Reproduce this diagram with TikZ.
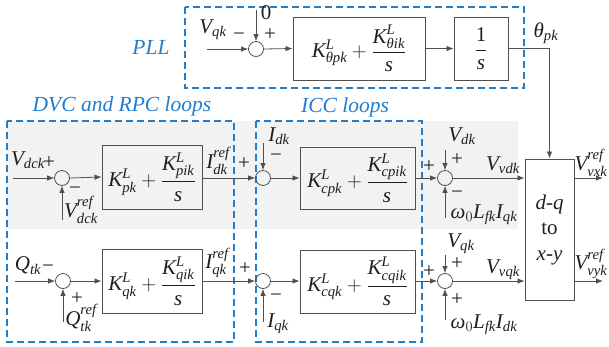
\documentclass[tikz,border=0pt]{standalone}
\usepackage{amsmath}
\usepackage{fontspec}
\setmainfont{Liberation Serif}
\usetikzlibrary{arrows.meta}
\definecolor{lc}{RGB}{80,80,80}
\definecolor{bc}{RGB}{35,125,205}
\definecolor{gb}{RGB}{242,242,242}
\newcommand{\iv}[1]{\textit{#1}}
\newcommand{\fsz}{\fontsize{21}{24}\selectfont}
\begin{document}
\begin{tikzpicture}[x=1pt,y=-1pt, line width=0.8pt,
  every node/.style={font=\fsz, text=black!88},
  lbl/.style={inner sep=0pt},
  sumc/.style={circle, draw=lc, line width=0.8pt, minimum size=15pt, inner sep=0pt},
  blk/.style={draw=lc, line width=0.9pt, inner sep=0pt},
  conn/.style={draw=lc, -{Latex[length=7pt,width=5.5pt]}},
  dbox/.style={draw=bc, line width=1.2pt, dash pattern=on 7pt off 4pt},
  blab/.style={text=bc, font=\fontsize{21.5}{24}\selectfont\itshape, inner sep=0pt}]
\useasboundingbox (0,0) rectangle (609,346);
% background band
\fill[gb] (7,121) rectangle (518,229);
% dashed group boxes
\draw[dbox] (185,7) rectangle (524,88);
\draw[dbox] (7,121) rectangle (234,342);
\draw[dbox] (256,121) rectangle (422,342);
\node[blab] (tpll) at (151,47) {PLL};
\node[blab] (tdvc) at (122,106) {DVC and RPC loops};
\node[blab] (ticc) at (345,107) {ICC loops};

% ---------- PLL row ----------
\coordinate (in0) at (207,49);
\coordinate (top0) at (256,10);
\node[sumc] (s0) at (256,49) {};
\node[blk, minimum width=132pt, minimum height=63pt] (b0) at (359,48.5)
  {$\iv{K}^{\iv{L}}_{\iv{θpk}}+\dfrac{\iv{K}^{\iv{L}}_{\iv{θik}}}{\iv{s}}$};
\node[blk, minimum width=54pt, minimum height=63pt] (b01) at (481,48.5)
  {$\dfrac{\textup{1}}{\iv{s}}$};
\node[blk, minimum width=49pt, minimum height=141pt, align=center,
  font=\fontsize{21}{25.5}\selectfont] (dq) at (549.5,229.5)
  {\iv{d-q}\\to\\\iv{x-y}};
\node[lbl] (lvqk) at (213,30) {$\iv{V}_{\iv{qk}}$};
\node[lbl] (lzero) at (266,13) {0};
\node[lbl] (lm0) at (239,37) {−};
\node[lbl] (lp0) at (270,35) {+};
\node[lbl] (lth) at (546,33) {$\iv{θ}_{\iv{pk}}$};
\draw[conn] (in0) -- (s0.west);
\draw[conn] (top0) -- (s0.north);
\draw[conn] (s0.east) -- (b0.west);
\draw[conn] (b0.east) -- (b01.west);
\draw[conn] (b01.east) -| (dq.north);

% ---------- row 1 (d axis) ----------
\coordinate (in1) at (13,178);
\coordinate (vref) at (62,220);
\coordinate (idk) at (263,143);
\coordinate (vdk) at (445,150);
\coordinate (wq) at (445,218);
\coordinate (o1) at (603,178);
\node[sumc] (c1) at (62,178) {};
\node[sumc] (c2) at (263,178) {};
\node[sumc] (c3) at (445,178) {};
\node[blk, minimum width=100pt, minimum height=64pt] (p1) at (152,177)
  {$\iv{K}^{\iv{L}}_{\iv{pk}}+\dfrac{\iv{K}^{\iv{L}}_{\iv{pik}}}{\iv{s}}$};
\node[blk, minimum width=115pt, minimum height=62pt] (cp) at (357.5,178)
  {$\iv{K}^{\iv{L}}_{\iv{cpk}}+\dfrac{\iv{K}^{\iv{L}}_{\iv{cpik}}}{\iv{s}}$};
\node[lbl] (lvdck) at (28,160) {$\iv{V}_{\iv{dck}}$};
\node[lbl] (lp1) at (49,163) {+};
\node[lbl] (lm1) at (75,191) {−};
\node[lbl] (lvref) at (81,210) {$\iv{V}^{\iv{ref}}_{\iv{dck}}$};
\node[lbl] (lidref) at (218,161) {$\iv{I}^{\iv{ref}}_{\iv{dk}}$};
\node[lbl] (lp2) at (244,164) {+};
\node[lbl] (lidk) at (279,136) {$\iv{I}_{\iv{dk}}$};
\node[lbl] (lm2) at (276,158) {−};
\node[lbl] (lp3) at (429,167) {+};
\node[lbl] (lvdk) at (462,136) {$\iv{V}_{\iv{dk}}$};
\node[lbl] (lp4) at (457,160) {+};
\node[lbl] (lm3) at (457,195) {−};
\node[lbl] (lwq) at (484,215) {$\iv{ω}_0\iv{L}_{\iv{fk}}\iv{I}_{\iv{qk}}$};
\node[lbl] (lvvdk) at (503,165) {$\iv{V}_{\iv{vdk}}$};
\node[lbl] (lvx) at (591,163) {$\iv{V}^{\iv{ref}}_{\iv{vxk}}$};
\draw[conn] (in1) -- (c1.west);
\draw[conn] (vref) -- (c1.south);
\draw[conn] (c1.east) -- (p1.west);
\draw[conn] (p1.east |- c2) -- (c2.west);
\draw[conn] (idk) -- (c2.north);
\draw[conn] (c2.east) -- (cp.west);
\draw[conn] (cp.east) -- (c3.west);
\draw[conn] (vdk) -- (c3.north);
\draw[conn] (wq) -- (c3.south);
\draw[conn] (c3.east) -- (c3.east -| dq.west);
\draw[conn] (dq.east |- c3) -- (o1);

% ---------- row 2 (q axis) ----------
\coordinate (in2) at (15,281);
\coordinate (qref) at (63,322);
\coordinate (iqk) at (263,322);
\coordinate (vqk) at (445,255);
\coordinate (wd) at (445,320);
\coordinate (o2) at (603,281);
\node[sumc] (d1) at (63,281) {};
\node[sumc] (d2) at (263,281) {};
\node[sumc] (d3) at (445,281) {};
\node[blk, minimum width=100pt, minimum height=64pt] (q1) at (152,281)
  {$\iv{K}^{\iv{L}}_{\iv{qk}}+\dfrac{\iv{K}^{\iv{L}}_{\iv{qik}}}{\iv{s}}$};
\node[blk, minimum width=115pt, minimum height=63pt] (cq) at (357.5,281.5)
  {$\iv{K}^{\iv{L}}_{\iv{cqk}}+\dfrac{\iv{K}^{\iv{L}}_{\iv{cqik}}}{\iv{s}}$};
\node[lbl] (lqtk) at (28,266) {$\iv{Q}_{\iv{tk}}$};
\node[lbl] (lm5) at (48,269) {−};
\node[lbl] (lp5) at (77,299) {+};
\node[lbl] (lqref) at (81,318) {$\iv{Q}^{\iv{ref}}_{\iv{tk}}$};
\node[lbl] (liqref) at (217,263) {$\iv{I}^{\iv{ref}}_{\iv{qk}}$};
\node[lbl] (lp6) at (245,269) {+};
\node[lbl] (lm6) at (276,298) {−};
\node[lbl] (liqk) at (278,324) {$\iv{I}_{\iv{qk}}$};
\node[lbl] (lp7) at (429,272) {+};
\node[lbl] (lvqk2) at (461,244) {$\iv{V}_{\iv{qk}}$};
\node[lbl] (lp8) at (457,264) {+};
\node[lbl] (lp9) at (457,300) {+};
\node[lbl] (lwd) at (484,325) {$\iv{ω}_0\iv{L}_{\iv{fk}}\iv{I}_{\iv{dk}}$};
\node[lbl] (lvvqk) at (503,270) {$\iv{V}_{\iv{vqk}}$};
\node[lbl] (lvy) at (591,264) {$\iv{V}^{\iv{ref}}_{\iv{vyk}}$};
\draw[conn] (in2) -- (d1.west);
\draw[conn] (qref) -- (d1.south);
\draw[conn] (d1.east) -- (q1.west);
\draw[conn] (q1.east |- d2) -- (d2.west);
\draw[conn] (iqk) -- (d2.south);
\draw[conn] (d2.east) -- (cq.west |- d2);
\draw[conn] (cq.east |- d3) -- (d3.west);
\draw[conn] (vqk) -- (d3.north);
\draw[conn] (wd) -- (d3.south);
\draw[conn] (d3.east) -- (d3.east -| dq.west);
\draw[conn] (dq.east |- d3) -- (o2);
\end{tikzpicture}
\end{document}
